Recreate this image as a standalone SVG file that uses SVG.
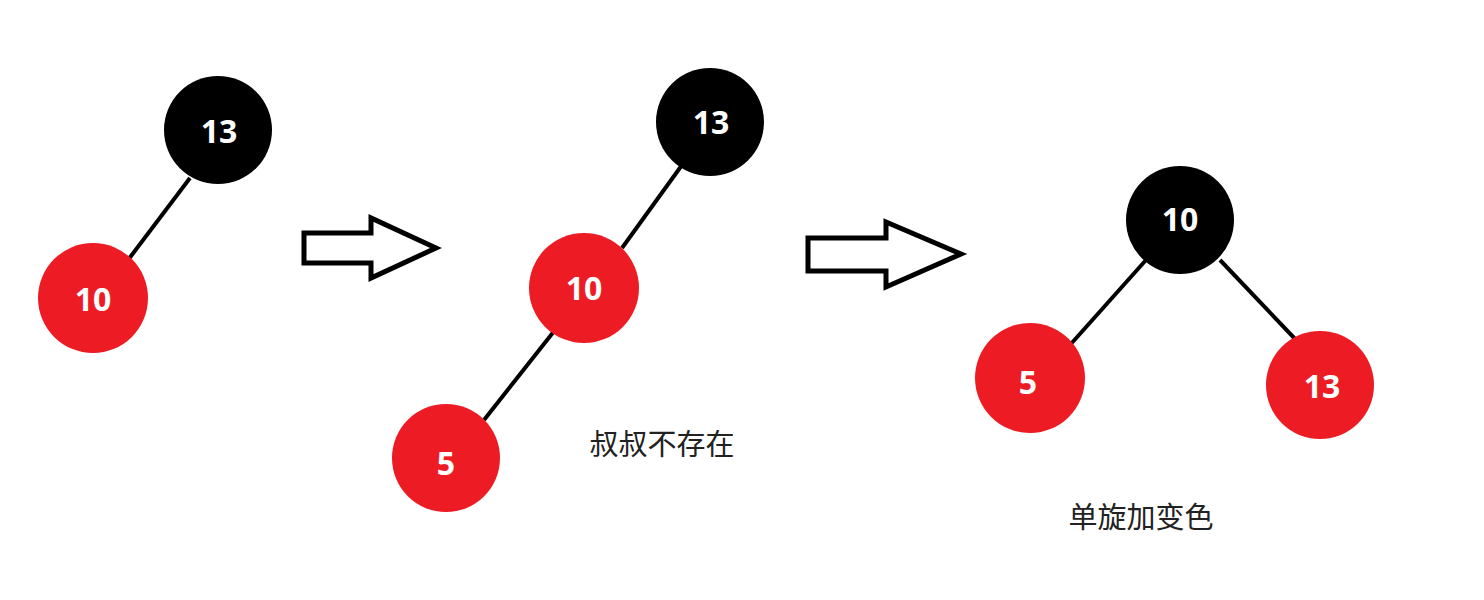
<svg xmlns="http://www.w3.org/2000/svg" width="1484" height="600" viewBox="0 0 1484 600">
<style>
.black{fill:#000}
.red{fill:#ed1c24}
.num{font-family:"Noto Sans","Open Sans",sans-serif;font-weight:bold;font-size:32px;fill:#fff;text-anchor:middle;dominant-baseline:central}
.edge{stroke:#000;stroke-width:4;fill:none}
.arrow{stroke:#000;stroke-width:5;fill:#fff;stroke-linejoin:miter}
.label{font-family:"Noto Sans CJK SC",sans-serif;font-size:29px;fill:#222;text-anchor:middle;dominant-baseline:central}
</style>
<rect width="1484" height="600" fill="#fff"/>
<g id="connectors">
<line class="edge" x1="190" y1="178" x2="128" y2="260"/>
<line class="edge" x1="682" y1="165" x2="622" y2="248"/>
<line class="edge" x1="555" y1="330" x2="484" y2="420"/>
<line class="edge" x1="1146" y1="260" x2="1070" y2="345"/>
<line class="edge" x1="1220" y1="260" x2="1298" y2="342"/>
<polygon class="arrow" points="304,233 371,233 371,218 436,248 371,278 371,263 304,263"/>
<polygon class="arrow" points="808,238 886,238 886,222 961,254 886,287 886,271 808,271"/>
</g>
<g id="n1-13"><circle class="black" cx="218" cy="130" r="54"/><text class="num" x="219" y="130">13</text></g>
<g id="n1-10"><circle class="red" cx="93" cy="298" r="55"/><text class="num" x="93" y="298">10</text></g>
<g id="n2-13"><circle class="black" cx="710" cy="122" r="54"/><text class="num" x="711" y="121">13</text></g>
<g id="n2-10"><circle class="red" cx="584" cy="288" r="55"/><text class="num" x="584" y="287">10</text></g>
<g id="n2-5"><circle class="red" cx="446" cy="458" r="54"/><text class="num" x="446" y="462">5</text></g>
<g id="n3-10"><circle class="black" cx="1180" cy="220" r="54"/><text class="num" x="1180" y="218">10</text></g>
<g id="n3-5"><circle class="red" cx="1030" cy="378" r="55"/><text class="num" x="1028" y="381">5</text></g>
<g id="n3-13"><circle class="red" cx="1320" cy="385" r="54"/><text class="num" x="1322" y="385">13</text></g>
<text class="label" x="662" y="442">叔叔不存在</text>
<text class="label" x="1141" y="515">单旋加变色</text>
</svg>
